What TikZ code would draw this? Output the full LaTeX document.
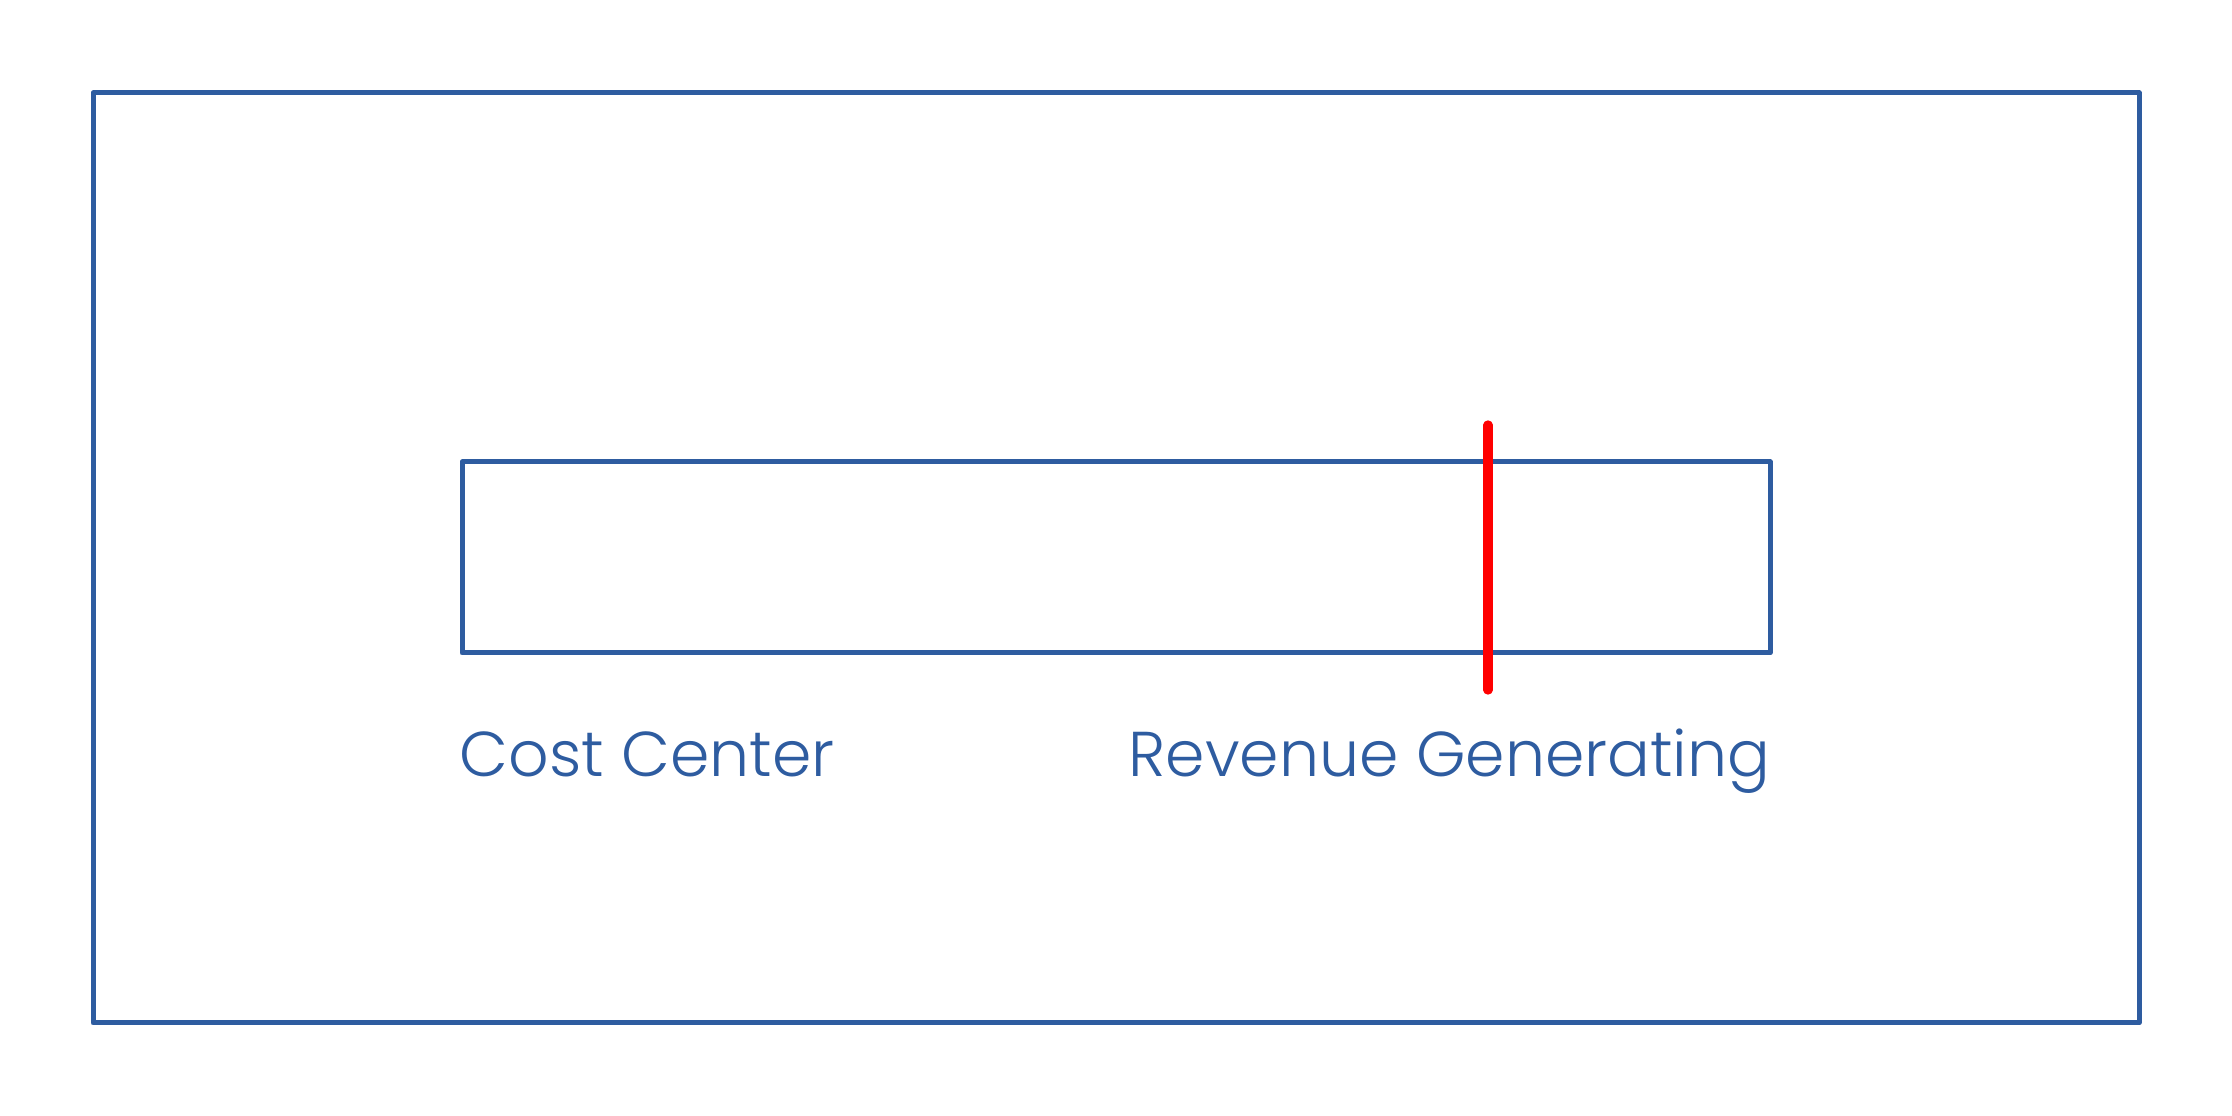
\documentclass[tikz,border=0pt]{standalone}
\usepackage{fontspec}
\setmainfont{Poppins}[UprightFont=* Light]
\definecolor{frameblue}{RGB}{46,92,160}
\definecolor{markred}{RGB}{255,0,0}
\begin{document}
\begin{tikzpicture}[x=0.3pt,y=-0.3pt,
  boxline/.style={draw=frameblue,line width=1.5pt,line join=round},
  redmark/.style={draw=markred,line width=2.8pt,line cap=round},
  lbl/.style={text=frameblue,font=\fontsize{19}{22}\selectfont,inner sep=0pt,anchor=base west}]
\useasboundingbox (0,0) rectangle (2232,1116);
\draw[boxline] (93,93) rectangle (2139,1023);
\draw[boxline] (462,462) rectangle (1770,653);
\coordinate (rtop) at (1488,425);
\coordinate (rbot) at (1488,690);
\draw[redmark] (rtop) -- (rbot);
\node[lbl] (cost) at (459,777) {Cost Center};
\node[lbl] (rev) at (1128,777) {Revenue Generating};
\end{tikzpicture}
\end{document}
